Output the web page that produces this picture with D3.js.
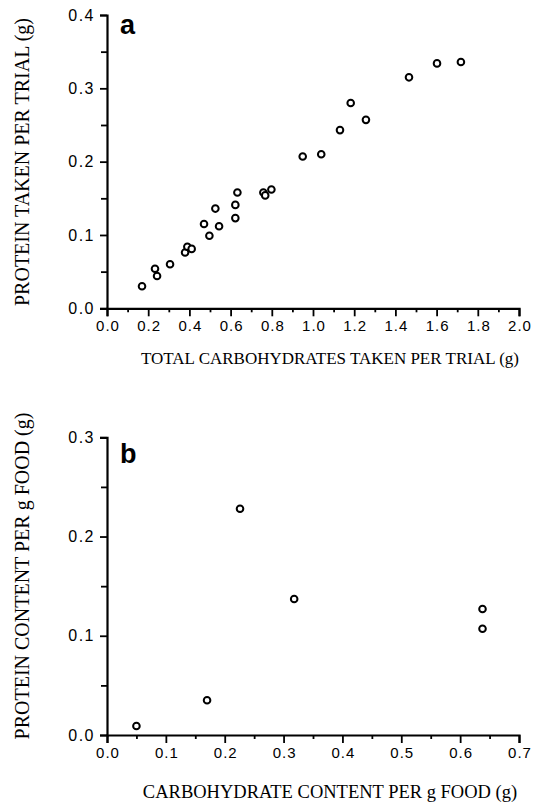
<!DOCTYPE html>
<html>
<head>
<meta charset="utf-8">
<script src="https://cdn.jsdelivr.net/npm/d3@7"></script>
<style>
  body { margin: 0; background: #fff; }
  svg { display: block; }
  .tick text { font-family: "Liberation Sans", Arial, sans-serif; fill: #000; }
  .domain, .tick line { stroke: #000; }
</style>
</head>
<body>
<div id="chart"></div>
<script>
// panel a: total carbohydrates vs protein taken per trial (g)
const carbTaken = [0.17, 0.233, 0.243, 0.306, 0.379, 0.39, 0.411, 0.471, 0.497, 0.526, 0.544,
  0.623, 0.623, 0.633, 0.759, 0.768, 0.798, 0.95, 1.04, 1.131, 1.183, 1.257, 1.466, 1.602, 1.718];
const protTaken = [0.030, 0.054, 0.044, 0.060, 0.076, 0.084, 0.081, 0.115, 0.099, 0.136, 0.112,
  0.123, 0.141, 0.158, 0.158, 0.154, 0.162, 0.207, 0.210, 0.243, 0.280, 0.257, 0.315, 0.334, 0.336];

// panel b: content per g food
const carbContent = [0.05, 0.17, 0.226, 0.318, 0.638, 0.638];
const protContent = [0.009, 0.035, 0.228, 0.137, 0.127, 0.107];

const xTicksA = d3.range(0, 2.01, 0.2);
const xMinorA = d3.range(0.1, 2, 0.2);
const yTicksA = [0, 0.1, 0.2, 0.3, 0.4];
const yMinorA = [0.05, 0.15, 0.25, 0.35];
const xTicksB = [0, 0.1, 0.2, 0.3, 0.4, 0.5, 0.6, 0.7];
const xMinorB = [0.05, 0.15, 0.25, 0.35, 0.45, 0.55, 0.65];
const yTicksB = [0, 0.1, 0.2, 0.3];
const yMinorB = [0.05, 0.15, 0.25];

const width = 538;
const height = 806;

const svg = d3.select('#chart')
  .append('svg')
  .attr('width', width)
  .attr('height', height);

function panel(opts) {
  const x = d3.scaleLinear().domain(opts.xDomain).range([107, 519]);
  const y = d3.scaleLinear().domain(opts.yDomain).range(opts.yRange);
  const g = svg.append('g');
  const y0 = opts.yRange[0];

  // minor ticks first, then majors with labels
  g.append('g')
    .attr('transform', `translate(0,${y0})`)
    .call(d3.axisBottom(x).tickValues(opts.xMinor).tickSize(4).tickFormat(''))
    .call(a => a.select('.domain').remove())
    .selectAll('line').attr('stroke-width', 1.8);

  const xa = g.append('g')
    .attr('transform', `translate(0,${y0})`)
    .call(d3.axisBottom(x).tickValues(opts.xTicks).tickSizeOuter(0).tickSize(8).tickFormat(d3.format('.1f')));
  xa.select('.domain').attr('stroke-width', 2.2);
  xa.selectAll('line').attr('stroke-width', 1.8);
  xa.selectAll('text')
    .attr('y', 23)
    .attr('dy', 0)
    .attr('dx', '0.5px')
    .style('font-size', '15px')
    .style('letter-spacing', '1px');

  g.append('g')
    .attr('transform', 'translate(107,0)')
    .call(d3.axisLeft(y).tickValues(opts.yMinor).tickSize(6).tickFormat(''))
    .call(a => a.select('.domain').remove())
    .selectAll('line').attr('stroke-width', 1.8);

  const ya = g.append('g')
    .attr('transform', 'translate(107,0)')
    .call(d3.axisLeft(y).tickValues(opts.yTicks).tickSizeOuter(0).tickSize(7).tickFormat(d3.format('.1f')));
  ya.select('.domain').attr('stroke-width', 2.2);
  ya.selectAll('line').attr('stroke-width', 1.8);
  ya.selectAll('text')
    .attr('x', -12)
    .style('font-size', '16px')
    .style('letter-spacing', '1.5px');

  g.selectAll('circle')
    .data(opts.xs.map((v, i) => [v, opts.ys[i]]))
    .enter()
    .append('circle')
    .attr('cx', d => x(d[0]))
    .attr('cy', d => y(d[1]))
    .attr('r', 3.3)
    .attr('fill', '#fff')
    .attr('stroke', '#000')
    .attr('stroke-width', 2);

  g.append('text')
    .attr('x', 120)
    .attr('y', opts.letterY)
    .style('font-family', '"Liberation Sans", Arial, sans-serif')
    .style('font-weight', 'bold')
    .style('font-size', '27px')
    .text(opts.letter);

  g.append('text')
    .attr('x', 330)
    .attr('y', y0 + opts.xTitleGap)
    .style('text-anchor', 'middle')
    .style('font-family', '"Liberation Serif", "Times New Roman", serif')
    .style('font-size', opts.xTitleSize)
    .text(opts.xTitle);

  g.append('text')
    .attr('transform', `translate(29,${opts.yTitleY}) rotate(-90)`)
    .style('text-anchor', 'middle')
    .style('font-family', '"Liberation Serif", "Times New Roman", serif')
    .style('font-size', '20px')
    .text(opts.yTitle);
}

panel({
  xDomain: [0, 2], yDomain: [0, 0.4], yRange: [308.3, 15],
  xTicks: xTicksA, xMinor: xMinorA, yTicks: yTicksA, yMinor: yMinorA,
  xs: carbTaken, ys: protTaken,
  letter: 'a', letterY: 34,
  xTitle: 'TOTAL CARBOHYDRATES TAKEN PER TRIAL (g)', xTitleSize: '17px', xTitleGap: 56,
  yTitle: 'PROTEIN TAKEN PER TRIAL (g)', yTitleY: 162
});

panel({
  xDomain: [0, 0.7], yDomain: [0, 0.3], yRange: [735, 437.3],
  xTicks: xTicksB, xMinor: xMinorB, yTicks: yTicksB, yMinor: yMinorB,
  xs: carbContent, ys: protContent,
  letter: 'b', letterY: 463,
  xTitle: 'CARBOHYDRATE CONTENT PER g FOOD (g)', xTitleSize: '18.5px', xTitleGap: 63,
  yTitle: 'PROTEIN CONTENT PER g FOOD (g)', yTitleY: 576
});
</script>
</body>
</html>
